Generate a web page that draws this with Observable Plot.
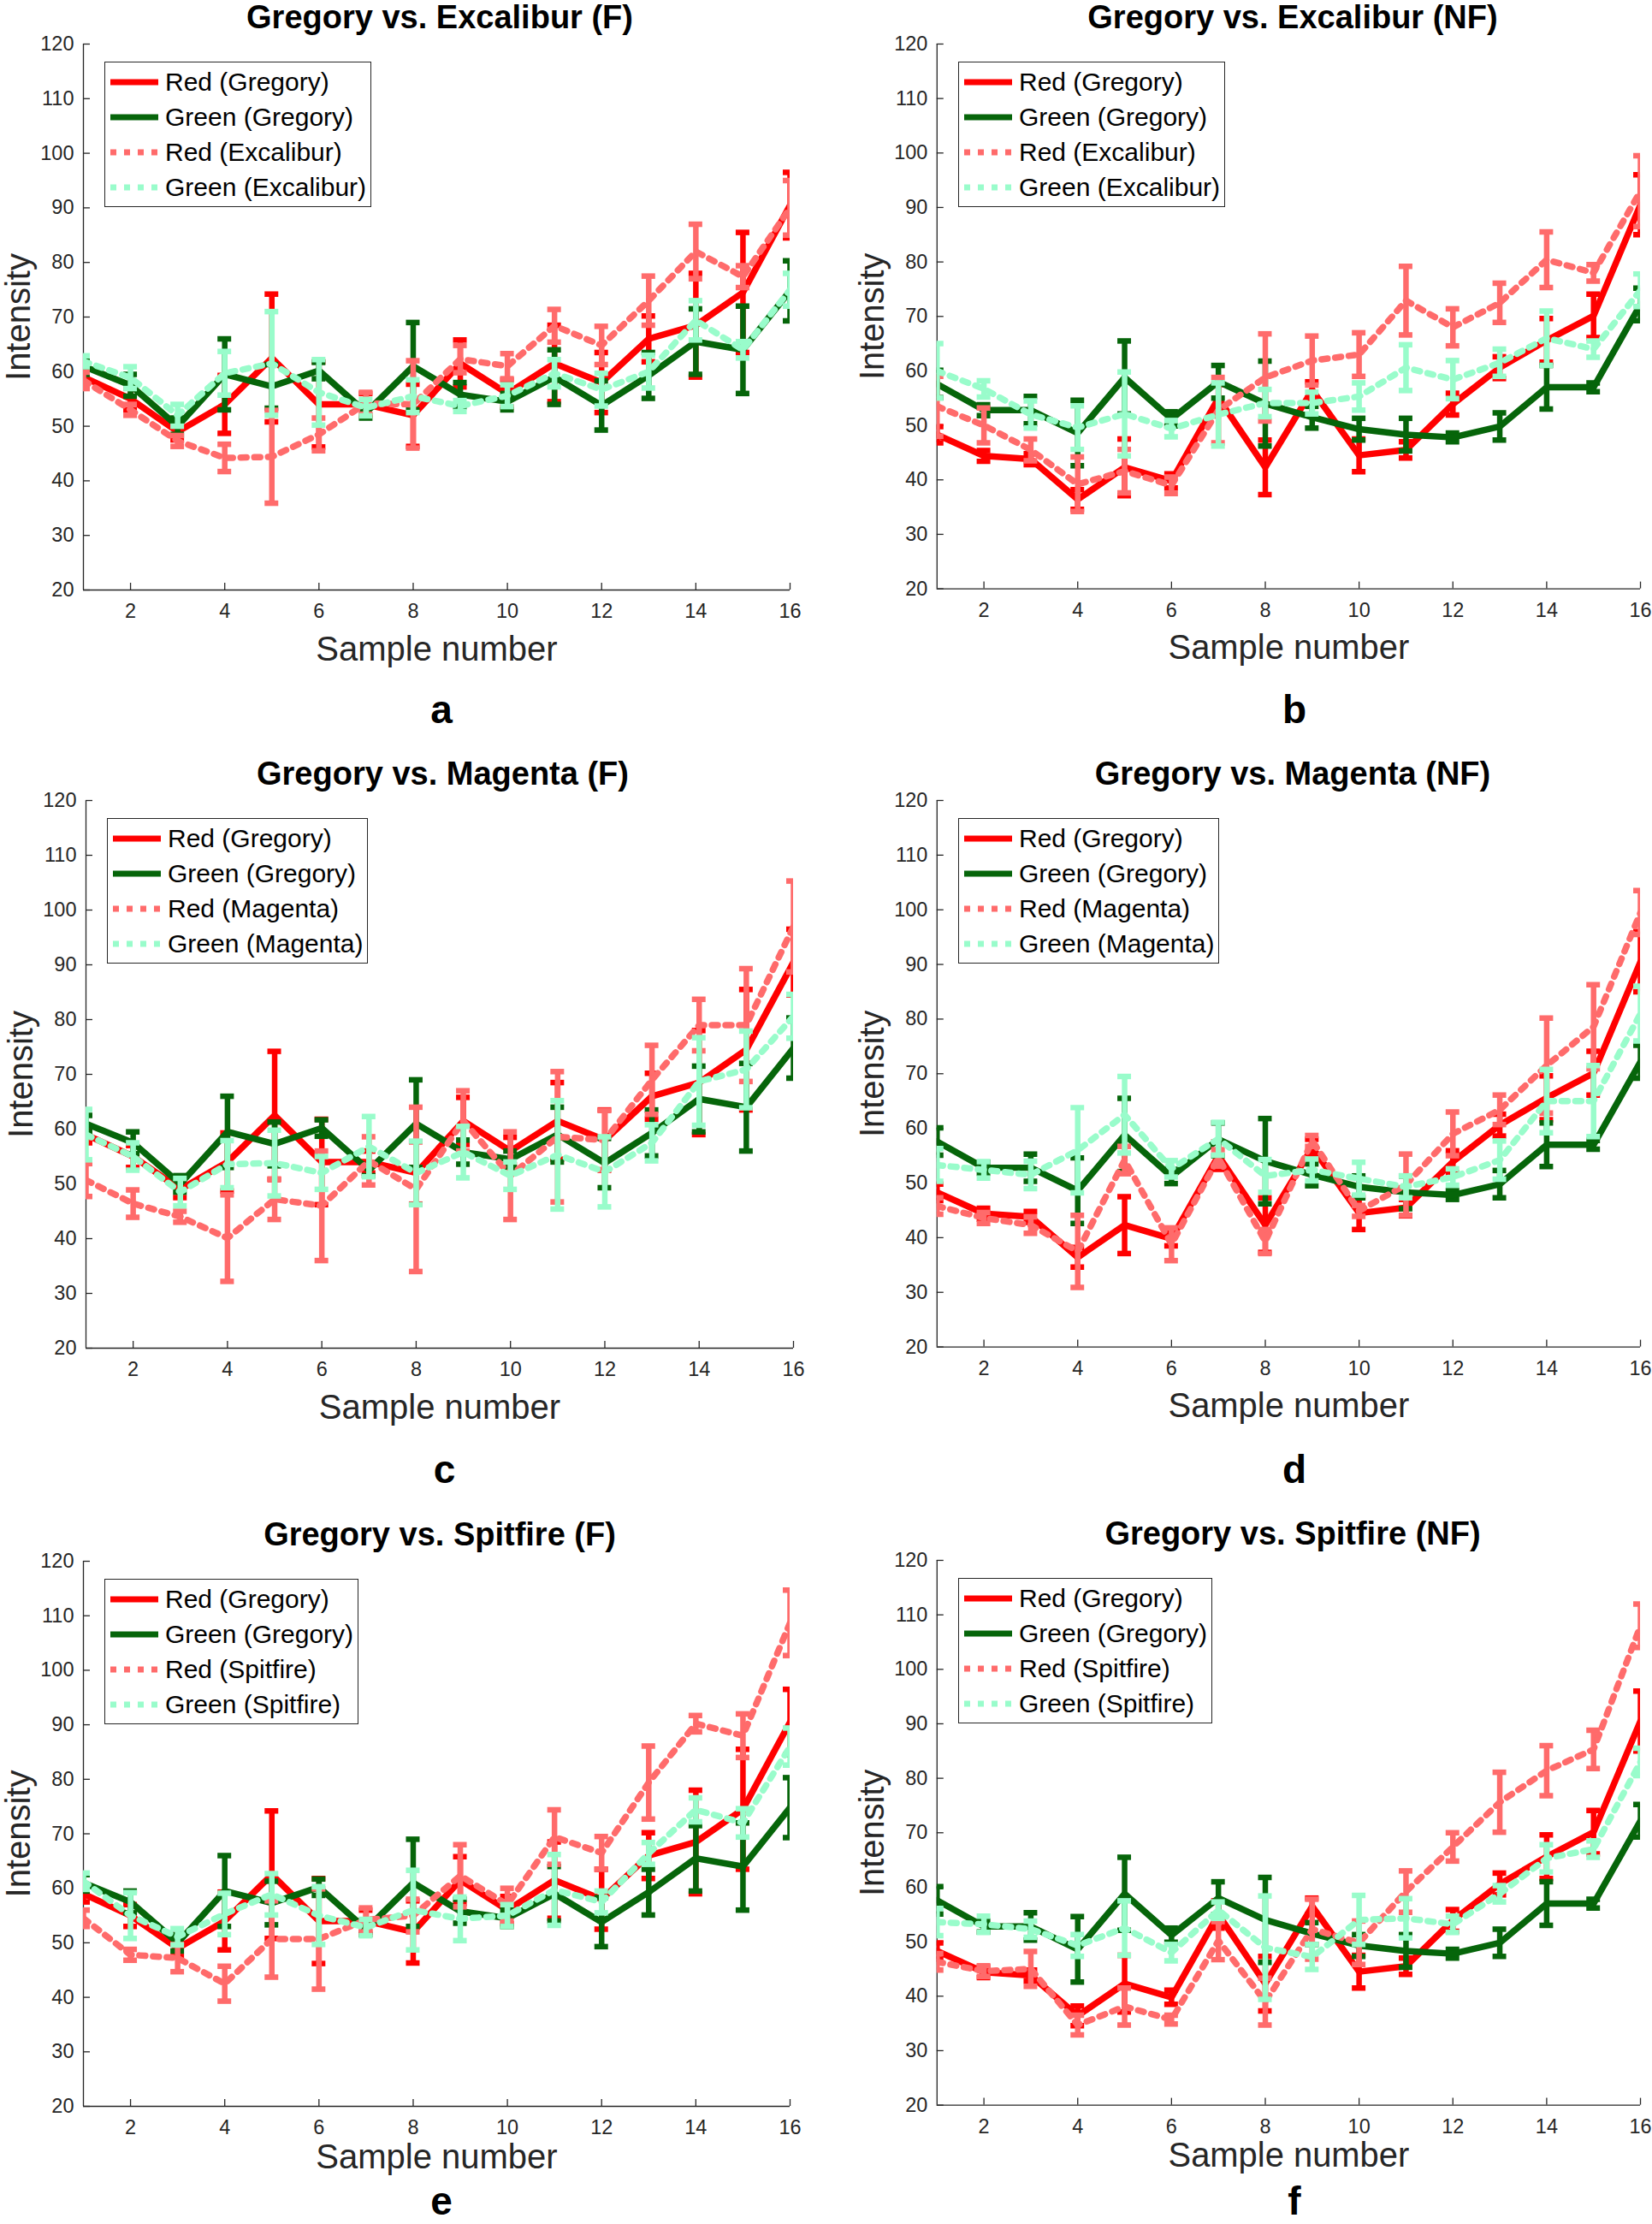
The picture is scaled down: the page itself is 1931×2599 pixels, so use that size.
<!DOCTYPE html>
<html>
<head>
<meta charset="utf-8">
<script src="https://cdn.jsdelivr.net/npm/d3@7"></script>
<script src="https://cdn.jsdelivr.net/npm/@observablehq/plot@0.6"></script>
<style>
  body { margin: 0; background: #fff; }
  #page { position: relative; width: 1931px; height: 2599px; background: #fff; overflow: hidden;
          font-family: "Liberation Sans", Arial, Helvetica, sans-serif; }
  .title { position: absolute; font-weight: bold; font-size: 38px; line-height: 1; white-space: nowrap;
           transform: translateX(-50%); color: #000; }
  .letter { position: absolute; font-weight: bold; font-size: 46px; line-height: 0.55;
            transform: translateX(-50%); color: #000; }
  .legend { position: absolute; background: #fff; border: 1.5px solid #262626; padding: 2px 5px 2px 6px; }
  .legend .row { display: flex; align-items: center; height: 41px; font-size: 30px; color: #000; white-space: nowrap; }
  .legend svg { margin-right: 8px; }
  .plotwrap { position: absolute; }
</style>
</head>
<body>
<div id="page"></div>
<script>
// ---------- data ----------
const sampleNumbers = [1, 2, 3, 4, 5, 6, 7, 8, 9, 10, 11, 12, 13, 14, 15, 16];
const xTicks = [2, 4, 6, 8, 10, 12, 14, 16];
const yTicks = [20, 30, 40, 50, 60, 70, 80, 90, 100, 110, 120];

// Gregory, flash (F) – shared by panels a, c, e
const redGregoryF      = [59, 55, 49, 54, 62.5, 54, 54, 52, 61.5, 56, 61.5, 58, 66, 68.5, 74.5, 90.5];
const redGregoryFErr   = [1.5, 2, 1.5, 5.3, 11.7, 7.8, 2, 5.7, 4.3, 2.5, 7, 5.5, 4.2, 9.5, 11, 6];
const greenGregoryF    = [61, 57.5, 50, 59.5, 57.3, 60.2, 52.5, 61, 55.8, 54.5, 59, 53.8, 59.3, 65.5, 64, 74.8];
const greenGregoryFErr = [1.5, 2, 1.5, 6.5, 4, 1.5, 1, 8, 2.2, 1.5, 5, 4.5, 4.2, 6, 8, 5.5];

// Gregory, no flash (NF) – shared by panels b, d, f
const redGregoryNF      = [48.3, 44.4, 43.8, 36.4, 42.3, 39.8, 55, 42.3, 56.5, 44.5, 45.5, 53.9, 60.6, 65.6, 70.1, 90.5];
const redGregoryNFErr   = [1.5, 1, 1, 1.8, 5.2, 1.3, 2.5, 5, 1.5, 3, 1.5, 2, 2, 4, 4, 5.5];
const greenGregoryNF    = [57.6, 52.8, 52.8, 48.6, 58.8, 51.2, 58, 54, 51.5, 49.3, 48.3, 47.8, 49.8, 57, 57, 72.2];
const greenGregoryNFErr = [2.5, 1, 2.5, 6, 6.7, 1.3, 3, 7.8, 2, 2, 3, 0.8, 2.5, 4, 0.8, 3];

// Excalibur
const redExcaliburF       = [58.4, 53, 47.3, 44.2, 44.4, 48.5, 54.2, 54, 62.3, 61, 68.4, 64.8, 73, 82, 77.4, 90];
const redExcaliburFErr    = [1.5, 1, 1, 2.5, 8.5, 3, 2, 8, 2.5, 2.3, 3, 3.5, 4.5, 5, 2, 5];
const greenExcaliburF     = [61.9, 58.9, 52, 59.7, 61.5, 56.2, 53.4, 55.5, 53.7, 55.6, 59.7, 56.7, 60, 69.4, 64, 75];
const greenExcaliburFErr  = [1, 2, 2, 4, 9.5, 6, 1.5, 3, 1, 2, 2.5, 3, 3, 3.6, 1.5, 3];
const redExcaliburNF      = [53.5, 50, 45.5, 39.2, 41.6, 39, 52.8, 58.8, 61.9, 63, 72.9, 68, 72.5, 80.4, 78, 93];
const redExcaliburNFErr   = [5.5, 3.2, 2, 5, 4, 1.5, 6, 8, 4.5, 4, 6.3, 3.4, 3.6, 5.1, 1.5, 6.5];
const greenExcaliburNF    = [60, 56.7, 52, 49.6, 52.1, 49.4, 52, 54.1, 54.1, 55.3, 60.6, 58.4, 61.5, 66, 64, 74.8];
const greenExcaliburNFErr = [5, 1.5, 2.5, 4, 7.7, 1.5, 5.8, 2.5, 2, 2.5, 4.2, 3.5, 2.5, 5, 1.5, 3];

// Magenta
const redMagentaF       = [50.7, 46.4, 44, 40.1, 47.2, 46, 54.2, 49, 61.5, 51.5, 58.6, 58, 69, 79, 79, 97];
const redMagentaFErr    = [3, 2.5, 1, 7.9, 3.7, 10, 4.4, 15, 5.5, 8, 11.9, 5.4, 6.3, 4.7, 10.3, 8.3];
const greenMagentaF     = [59, 55, 48.5, 53.6, 53.8, 52, 56.8, 52, 55.8, 51.5, 55.3, 52.2, 57.5, 68.7, 70.9, 80.6];
const greenMagentaFErr  = [4.6, 2.5, 2.5, 4.3, 6, 3, 5.5, 5.8, 4.7, 2.5, 9.9, 6.4, 3.3, 8, 7, 4];
const redMagentaNF      = [45.8, 43.6, 42.3, 37.5, 54.2, 38.8, 54.6, 39.3, 57.7, 44.9, 49.7, 59, 63.4, 71.5, 78.6, 99.5];
const redMagentaNFErr   = [1.5, 1, 1.5, 6.6, 2.5, 3, 1.5, 2.2, 1, 1, 5.6, 4, 2.7, 8.7, 7.7, 4];
const greenMagentaNF    = [53.3, 52.4, 51.5, 56, 62.5, 52.6, 58.1, 51.3, 52.4, 50.8, 49.3, 51.1, 54.2, 65, 65, 81];
const greenMagentaNFErr = [3, 1.5, 2.5, 7.8, 7, 1.5, 3, 3, 2, 3, 2, 1.5, 3.5, 5.8, 6.5, 5];

// Spitfire
const redSpitfireF       = [54.5, 47.8, 47.2, 42.5, 50.7, 50.7, 54.2, 55, 62.3, 57, 69.4, 66.5, 79.4, 90.2, 88, 108.7];
const redSpitfireFErr    = [1.5, 1, 2.5, 3.2, 7, 9.2, 2.2, 3, 5.7, 3, 5, 3, 6.7, 1.5, 4, 6];
const greenSpitfireF     = [61.3, 55, 51.1, 55.3, 58.9, 55, 52.8, 56, 54.4, 55, 59.7, 57.5, 66.4, 74.4, 72, 86];
const greenSpitfireFErr  = [1.5, 4.2, 1.5, 3.8, 3.8, 5.3, 1.5, 7.3, 4, 2, 6.5, 2, 2, 2.2, 2.6, 3.4];
const redSpitfireNF      = [46.3, 44.6, 45, 34.7, 38.1, 35.7, 50.2, 39, 52.3, 49.8, 59.2, 67.4, 75.6, 81.4, 85.3, 108];
const redSpitfireNFErr   = [1.5, 1, 3.2, 1.8, 3.4, 0.8, 3.5, 4.3, 5.5, 4, 3.8, 2.6, 5.5, 4.6, 3.5, 4];
const greenSpitfireNF    = [53.6, 53.2, 52.3, 49.3, 52.5, 48, 55.8, 48.9, 47.2, 54, 54.3, 53.2, 58.8, 65.3, 67, 83];
const greenSpitfireNFErr = [2.5, 1.5, 1.5, 2, 5, 1.5, 1.5, 9.5, 2.3, 4.5, 3.6, 1.5, 1.5, 2.5, 1.5, 2.5];

const panelTitles  = ["Gregory vs. Excalibur (F)", "Gregory vs. Excalibur (NF)", "Gregory vs. Magenta (F)",
                      "Gregory vs. Magenta (NF)", "Gregory vs. Spitfire (F)", "Gregory vs. Spitfire (NF)"];
const panelLetters = ["a", "b", "c", "d", "e", "f"];
const panelOthers  = ["Excalibur", "Excalibur", "Magenta", "Magenta", "Spitfire", "Spitfire"];
const panelSeries = [
  [redGregoryF, redGregoryFErr, greenGregoryF, greenGregoryFErr, redExcaliburF, redExcaliburFErr, greenExcaliburF, greenExcaliburFErr],
  [redGregoryNF, redGregoryNFErr, greenGregoryNF, greenGregoryNFErr, redExcaliburNF, redExcaliburNFErr, greenExcaliburNF, greenExcaliburNFErr],
  [redGregoryF, redGregoryFErr, greenGregoryF, greenGregoryFErr, redMagentaF, redMagentaFErr, greenMagentaF, greenMagentaFErr],
  [redGregoryNF, redGregoryNFErr, greenGregoryNF, greenGregoryNFErr, redMagentaNF, redMagentaNFErr, greenMagentaNF, greenMagentaNFErr],
  [redGregoryF, redGregoryFErr, greenGregoryF, greenGregoryFErr, redSpitfireF, redSpitfireFErr, greenSpitfireF, greenSpitfireFErr],
  [redGregoryNF, redGregoryNFErr, greenGregoryNF, greenGregoryNFErr, redSpitfireNF, redSpitfireNFErr, greenSpitfireNF, greenSpitfireNFErr]
];

// ---------- layout & style ----------
const FONT = '"Liberation Sans", Arial, Helvetica, sans-serif';
const AXIS = "#262626";
const seriesStyles = [
  {color: "#ff0000", dash: null},
  {color: "#06650a", dash: null},
  {color: "#ff6b6b", dash: "7,9"},
  {color: "#99fccb", dash: "7,9"}
];
// plot frame boxes in page pixels: [left, right, top, bottom]
const frames = [
  [97, 923, 51, 689], [1095, 1919, 51, 689],
  [100, 927, 935, 1575], [1095, 1919, 935, 1575],
  [97, 923, 1824, 2461], [1095, 1919, 1823, 2461]
];
// baseline of the panel letter below the frame bottom
const letterOffsets = [157, 157, 159, 159, 128, 128];
const xLabelOffsets = [82, 82, 82, 82, 72, 72];
const M = {left: 100, right: 14, top: 15, bottom: 112};

const page = document.getElementById("page");

panelTitles.forEach((title, p) => {
  const [L, R, T, B] = frames[p];
  const names = ["Red (Gregory)", "Green (Gregory)", `Red (${panelOthers[p]})`, `Green (${panelOthers[p]})`];
  const arrays = panelSeries[p];
  const rows = [];
  names.forEach((name, s) => {
    const ys = arrays[2 * s], es = arrays[2 * s + 1];
    sampleNumbers.forEach((x, i) => rows.push({series: s, name, x, y: ys[i], lo: ys[i] - es[i], hi: ys[i] + es[i]}));
  });

  const marks = [
    Plot.ruleY([yTicks[0]], {stroke: AXIS, strokeWidth: 1.3}),
    Plot.ruleX([sampleNumbers[0]], {stroke: AXIS, strokeWidth: 1.3}),
    Plot.axisY({ticks: yTicks, tickSize: -8, tickPadding: 19, fontSize: 23.5, label: null, strokeWidth: 1.3}),
    Plot.axisY({ticks: [], label: "Intensity", labelAnchor: "center", labelOffset: 91, fontSize: 40, labelArrow: "none"}),
    Plot.axisX({ticks: xTicks, tickSize: -8, tickPadding: 24, fontSize: 23.5, label: null, strokeWidth: 1.3}),
    Plot.axisX({ticks: [], label: "Sample number", labelAnchor: "center", labelOffset: xLabelOffsets[p], fontSize: 40, labelArrow: "none"})
  ];
  seriesStyles.forEach((st, s) => {
    const d = rows.filter(r => r.series === s);
    marks.push(
      Plot.ruleX(d, {x: "x", y1: "lo", y2: "hi", stroke: st.color, strokeWidth: 6.5, clip: true}),
      Plot.ruleY(d, {y: "lo", x1: "x", x2: "x", insetLeft: -8, insetRight: -8, stroke: st.color, strokeWidth: 6.5, clip: true}),
      Plot.ruleY(d, {y: "hi", x1: "x", x2: "x", insetLeft: -8, insetRight: -8, stroke: st.color, strokeWidth: 6.5, clip: true}),
      Plot.line(d, {x: "x", y: "y", stroke: st.color, strokeWidth: 7.5, strokeDasharray: st.dash, clip: true})
    );
  });

  const chart = Plot.plot({
    width: M.left + (R - L) + M.right,
    height: M.top + (B - T) + M.bottom,
    marginLeft: M.left, marginRight: M.right, marginTop: M.top, marginBottom: M.bottom,
    x: {domain: [sampleNumbers[0], sampleNumbers[sampleNumbers.length - 1]]},
    y: {domain: [yTicks[0], yTicks[yTicks.length - 1]]},
    style: {fontFamily: FONT, color: AXIS, background: "transparent", overflow: "visible"},
    marks
  });
  const wrap = document.createElement("div");
  wrap.className = "plotwrap";
  wrap.style.left = (L - M.left) + "px";
  wrap.style.top = (T - M.top) + "px";
  wrap.appendChild(chart);
  page.appendChild(wrap);

  // title
  const t = document.createElement("div");
  t.className = "title";
  t.textContent = title;
  t.style.left = ((L + R) / 2 + 4) + "px";
  t.style.top = (T - 18 - 32) + "px";
  page.appendChild(t);

  // panel letter (line-height 0.55 → baseline ≈ 0.62em below box top)
  const lt = document.createElement("div");
  lt.className = "letter";
  lt.textContent = panelLetters[p];
  lt.style.left = ((L + R) / 2 + 6) + "px";
  lt.style.top = (B + letterOffsets[p] - 28.6) + "px";
  page.appendChild(lt);

  // legend
  const lg = document.createElement("div");
  lg.className = "legend";
  lg.style.left = (L + 25) + "px";
  lg.style.top = (T + 21) + "px";
  names.forEach((name, s) => {
    const st = seriesStyles[s];
    const row = document.createElement("div");
    row.className = "row";
    row.innerHTML = `<svg width="56" height="8"><line x1="0" y1="4" x2="56" y2="4" stroke="${st.color}" stroke-width="7" ${st.dash ? `stroke-dasharray="${st.dash}"` : ""}/></svg><span>${name}</span>`;
    lg.appendChild(row);
  });
  page.appendChild(lg);
});
</script>
</body>
</html>
